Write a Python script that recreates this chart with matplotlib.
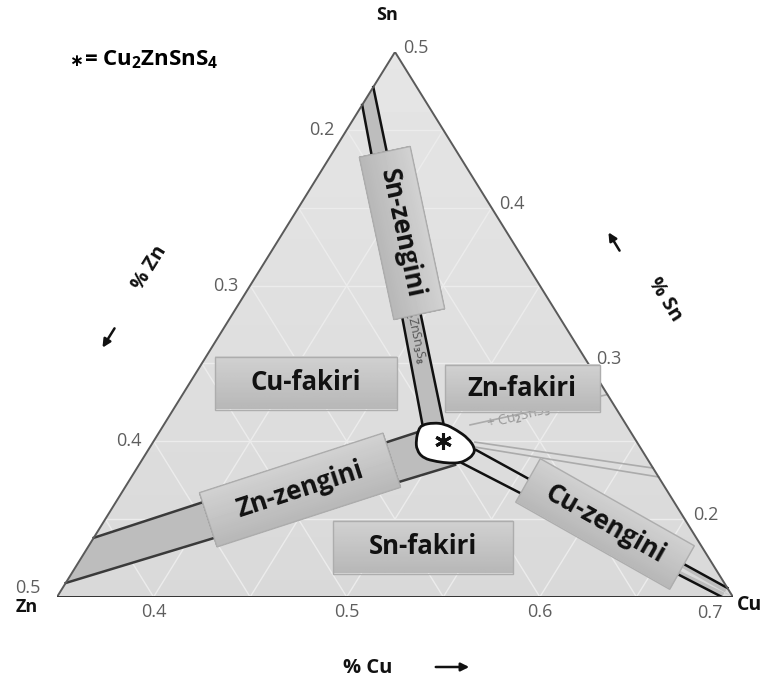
import numpy as np
import matplotlib
matplotlib.use('Agg')
import matplotlib.pyplot as plt
from matplotlib.patches import Polygon, Rectangle, PathPatch
from matplotlib.path import Path
from matplotlib.transforms import Affine2D

plt.rcParams['font.family'] = ['Open Sans', 'DejaVu Sans']
plt.rcParams['mathtext.fontset'] = 'custom'
plt.rcParams['mathtext.rm'] = 'Open Sans:bold'
plt.rcParams['mathtext.it'] = 'Open Sans:bold'
plt.rcParams['mathtext.bf'] = 'Open Sans:bold'

W, H = 763, 686

# ---- band boundaries (metal fractions Cu / Sn, Zn = 1 - Cu - Sn) ----
# Sn-rich band, running up towards the Sn corner
sn_rich_a_cu = [0.350, 0.484]
sn_rich_a_sn = [0.466, 0.2605]
sn_rich_b_cu = [0.350, 0.494]
sn_rich_b_sn = [0.4775, 0.262]
# Zn-rich band, running out to the Zn corner
zn_rich_a_cu = [0.350, 0.484]
zn_rich_a_sn = [0.188, 0.256]
zn_rich_b_cu = [0.350, 0.5137]
zn_rich_b_sn = [0.159, 0.2348]
# Cu-rich band, running down to the Cu corner
cu_rich_a_cu = [0.5198, 0.6942]
cu_rich_a_sn = [0.2444, 0.1558]
cu_rich_b_cu = [0.5167, 0.6943]
cu_rich_b_sn = [0.236, 0.150]

# single-phase kesterite field around Cu2ZnSnS4
blob_cu = [0.4836, 0.4889, 0.4953, 0.5033, 0.5120, 0.5187, 0.5199, 0.5181,
           0.5156, 0.5105, 0.5032, 0.4951, 0.4890, 0.4855, 0.4835]
blob_sn = [0.2605, 0.2619, 0.2611, 0.2572, 0.2519, 0.2455, 0.2412, 0.2380,
           0.2362, 0.2359, 0.2369, 0.2391, 0.2444, 0.2508, 0.2572]
czts_cu, czts_sn = 0.50, 0.25

# faint tie lines leaving the kesterite field
tie_cu = [[0.5086, 0.570], [0.5166, 0.6172], [0.5182, 0.6229]]
tie_sn = [[0.2605, 0.280], [0.2495, 0.2328], [0.2463, 0.2271]]

# axis ticks
cu_ticks = [0.4, 0.5, 0.6, 0.7]
zn_ticks = [0.2, 0.3, 0.4, 0.5]
sn_ticks = [0.2, 0.3, 0.4, 0.5]
grid_vals = [0.20, 0.25, 0.30, 0.35, 0.40, 0.45]
grid_cu = [0.40, 0.45, 0.50, 0.55, 0.60, 0.65]


def tern(cu, sn):
    # window: Cu 0.35-0.70, Zn 0.15-0.50, Sn 0.15-0.50
    cu = np.asarray(cu, dtype=float)
    sn = np.asarray(sn, dtype=float)
    t = (sn - 0.15) / 0.35
    return (cu - 0.35) / 0.35 + 0.5 * t, t


def xy(cu, sn):
    x, y = tern(cu, sn)
    return np.column_stack([np.atleast_1d(x), np.atleast_1d(y)])


fig = plt.figure(figsize=(W / 100, H / 100), dpi=100)
ax = fig.add_axes([57 / W, (H - 597) / H, 676 / W, 545 / H])
ax.axis('off')
to_fig = Affine2D().scale(1 / W, 1 / H) + fig.transFigure

corners = xy([0.35, 0.70, 0.35], [0.15, 0.15, 0.50])
tri = Polygon(corners, closed=True, fc='none', ec='none', zorder=0)
ax.add_patch(tri)
# background shading, a touch lighter towards the top
shade = np.linspace(0.85, 0.9, 64)[:, None]
im = ax.imshow(shade, cmap='gray', vmin=0, vmax=1, extent=(0, 1, 0, 1),
               origin='lower', aspect='auto', zorder=0)
im.set_clip_path(tri)

# light grid every 0.05
for v in grid_vals:
    p = xy([0.35, 0.85 - v], [v, v])
    ax.plot(p[:, 0], p[:, 1], color='#ececec', lw=1, zorder=1)
    p = xy([0.85 - v, 0.35], [0.15, 0.65 - v])
    ax.plot(p[:, 0], p[:, 1], color='#ececec', lw=1, zorder=1)
for c in grid_cu:
    p = xy([c, c], [0.15, 0.85 - c])
    ax.plot(p[:, 0], p[:, 1], color='#ececec', lw=1, zorder=1)

# tie lines
for tc, ts in zip(tie_cu, tie_sn):
    p = xy(tc, ts)
    ax.plot(p[:, 0], p[:, 1], color='#ababab', lw=1.2, zorder=2)

# bands
bands = [
    (sn_rich_a_cu, sn_rich_a_sn, sn_rich_b_cu, sn_rich_b_sn, None, '#111111'),
    (zn_rich_a_cu, zn_rich_a_sn, zn_rich_b_cu, zn_rich_b_sn, None, '#3a3a3a'),
    (cu_rich_a_cu, cu_rich_a_sn, cu_rich_b_cu, cu_rich_b_sn, (0.70, 0.15), '#111111'),
]
for acu, asn, bcu, bsn, tip, lc in bands:
    pa = xy(acu, asn)
    pb = xy(bcu, bsn)
    pts = [pa[::-1]]
    if tip is not None:
        pts.append(xy(*tip))
    pts.append(pb)
    ax.add_patch(Polygon(np.vstack(pts), closed=True, fc='#bdbdbd', ec='none', zorder=3))
    ax.plot(pa[:, 0], pa[:, 1], color=lc, lw=1.8, zorder=4)
    ax.plot(pb[:, 0], pb[:, 1], color=lc, lw=1.8, zorder=4)

# triangle frame
ax.add_patch(Polygon(corners, closed=True, fc='none', ec='#5a5a5a', lw=1.4, zorder=5))
ax.plot(corners[:2, 0], corners[:2, 1], color='#333333', lw=2, zorder=5)

# kesterite field as a smooth closed outline
P = xy(blob_cu, blob_sn)
M = (P + np.roll(P, -1, axis=0)) / 2
verts = [M[-1]]
codes = [Path.MOVETO]
for i in range(len(P)):
    verts += [P[i], M[i]]
    codes += [Path.CURVE3, Path.CURVE3]
ax.add_patch(PathPatch(Path(verts, codes), fc='white', ec='#111111', lw=2, zorder=8))
sx, sy = tern(czts_cu, czts_sn)
ax.plot([sx], [sy], marker=(6, 2, 0), ms=12, mew=2.2, color='#111111', zorder=9)

# small phase names printed along the lines
ax.text(487, H - 425, '+ Cu$_2$SnS$_3$', transform=to_fig, rotation=14,
        rotation_mode='anchor', ha='left', va='center', fontsize=10,
        color='#9a9a9a', zorder=3)
ax.text(421, H - 364, 'Cu$_2$ZnSn$_3$S$_8$', transform=to_fig, rotation=-78,
        rotation_mode='anchor', ha='right', va='center', fontsize=9,
        color='#555555', zorder=4.5)

box_shade = np.linspace(0.72, 0.82, 32)[:, None]


def label_box(text, cx, cy, w, h, ang=0, size=18.5):
    tr = Affine2D().rotate_deg_around(cx, H - cy, ang) + to_fig
    rect = Rectangle((cx - w / 2, H - cy - h / 2), w, h, transform=tr,
                     fc='none', ec='#adadad', lw=1, zorder=10.5, clip_on=False)
    ax.add_patch(rect)
    img = ax.imshow(box_shade, cmap='gray', vmin=0, vmax=1, origin='lower',
                    extent=(cx - w / 2, cx + w / 2, H - cy - h / 2, H - cy + h / 2),
                    transform=tr, aspect='auto', zorder=10, clip_on=False)
    img.set_clip_path(rect)
    ax.text(cx, H - cy, text, transform=to_fig, rotation=ang, rotation_mode='anchor',
            ha='center', va='center', fontsize=size, fontweight='bold',
            color='#111111', zorder=11)


label_box('Cu-fakiri', 306, 383, 182, 53)
label_box('Zn-fakiri', 522, 388, 155, 47)
label_box('Sn-fakiri', 423, 547, 180, 53)
label_box('Sn-zengini', 402, 233, 166, 52, -78)
label_box('Zn-zengini', 300, 490, 193, 57, 18)
label_box('Cu-zengini', 605, 524, 177, 50, -29.5)

ax.set_xlim(0, 1)
ax.set_ylim(0, 1)

# tick labels on the three edges
tick_kw = dict(fontsize=13, color='#5e5e5e', textcoords='offset pixels', zorder=12)
for c in cu_ticks:
    off = (-23, -16) if c == 0.7 else (0, -15)
    ax.annotate(f'{c:.1f}', xy=tern(c, 0.15), xytext=off, ha='center', va='center', **tick_kw)
for z in zn_ticks:
    off = (-17, 9) if z == 0.5 else (-12, 0)
    ax.annotate(f'{z:.1f}', xy=tern(0.35, 0.65 - z), xytext=off, ha='right', va='center', **tick_kw)
for s in sn_ticks:
    ax.annotate(f'{s:.1f}', xy=tern(0.85 - s, s), xytext=(8, 4), ha='left', va='center', **tick_kw)

# corner names and axis titles
bold = dict(fontweight='bold', color='#111111', ha='center', va='center')
fig.text(387 / W, 1 - 15 / H, 'Sn', fontsize=13, **bold)
fig.text(27 / W, 1 - 607 / H, 'Zn', fontsize=13, **bold)
fig.text(750 / W, 1 - 605 / H, 'Cu', fontsize=14, **bold)
fig.text(368 / W, 1 - 668 / H, '% Cu', fontsize=14.5, **bold)
fig.text(150 / W, 1 - 268 / H, '% Zn', fontsize=14.5, rotation=58, **bold)
fig.text(665 / W, 1 - 300 / H, '% Sn', fontsize=14.5, rotation=-58, **bold)

arrow_kw = dict(arrowstyle='-|>', color='#111111', lw=1.8, mutation_scale=12)
for (x0, y0), (x1, y1) in [((433, 667), (472, 667)),
                           ((116, 326), (101, 350)),
                           ((621, 253), (607, 230))]:
    ax.annotate('', xy=(x1, H - y1), xycoords=to_fig, xytext=(x0, H - y0),
                textcoords=to_fig, arrowprops=arrow_kw)

fig.text(69 / W, 1 - 61 / H, '\u2217', fontsize=12, fontweight='bold',
         family=['DejaVu Sans'], ha='left', va='center')
fig.text(84 / W, 1 - 60 / H, '= Cu$_2$ZnSnS$_4$', fontsize=16, fontweight='bold',
         ha='left', va='center')

fig.savefig('out.png', dpi=100, facecolor='white')
